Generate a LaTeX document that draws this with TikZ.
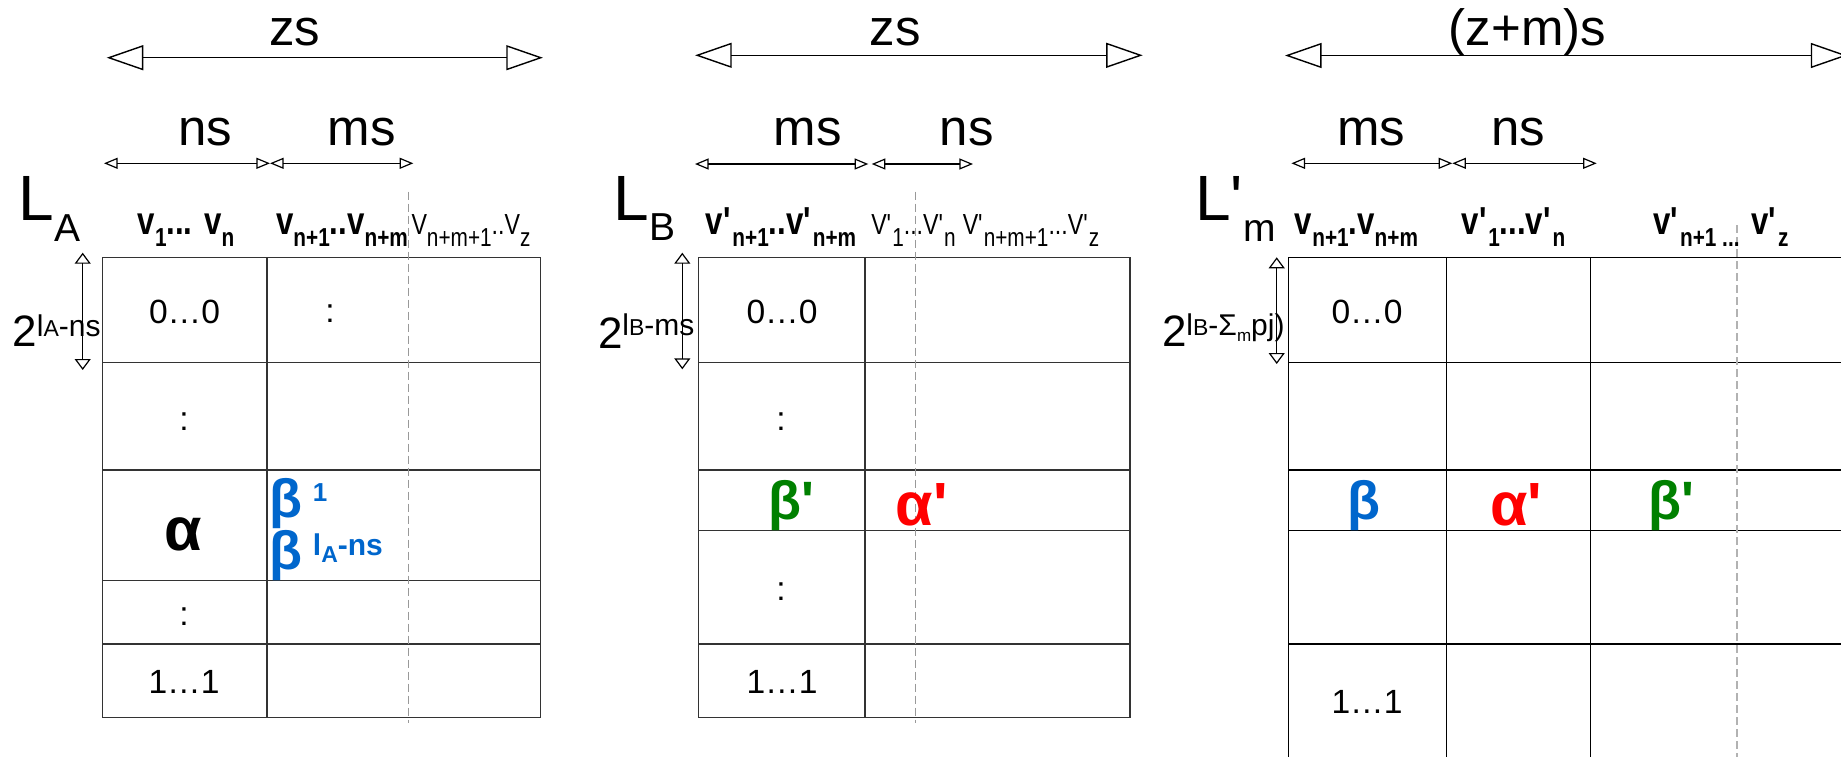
\documentclass[tikz,border=0pt]{standalone}
\usepackage{fontspec}
\setmainfont{Liberation Sans}
\newfontfamily\narrowfont[FakeStretch=0.8]{Liberation Sans}
\usetikzlibrary{arrows.meta, positioning}
\definecolor{betablue}{HTML}{0066CC}
\definecolor{betagreen}{HTML}{008000}
\definecolor{alphared}{HTML}{FF0000}
\newcommand\fsz[1]{\fontsize{#1}{#1}\selectfont}
\newcommand\hsub[1]{\raisebox{-6pt}{\fsz{13}#1}}
\newcommand\pr{\textquotesingle}

\begin{document}
\begin{tikzpicture}[
    x=0.5pt, y=-0.5pt,
    every node/.style={inner sep=0pt, outer sep=0pt, anchor=base},
    dimlbl/.style={font=\fsz{25.5}},
    tname/.style={font=\fsz{32}, anchor=base west},
    hdr/.style={font=\narrowfont\bfseries\fsz{19.5}},
    hdrthin/.style={font=\narrowfont\fsz{14.5}},
    val/.style={font=\fsz{16.8}},
    greek/.style={font=\bfseries\fsz{30.5}},
    beta/.style={font=\bfseries\fsz{27}},
    pow/.style={font=\fsz{22}, anchor=base west},
    tline/.style={draw=black!80, line width=0.6pt},
    sep/.style={draw=black!40, dash pattern=on 4pt off 2pt, line width=0.5pt},
    bigdim/.style={{Triangle[open, length=18.3pt, width=12.5pt]}-{Triangle[open, length=18.3pt, width=12.5pt]}, line width=0.7pt},
    dim/.style={{Triangle[open, length=6.8pt, width=5.5pt]}-{Triangle[open, length=6.8pt, width=5.5pt]}, line width=0.6pt},
    vdim/.style={{Triangle[open, length=5.5pt, width=8pt]}-{Triangle[open, length=5.5pt, width=8pt]}, line width=0.6pt}
]
    \useasboundingbox (0,0) rectangle (1841,756);
    \clip (0,0) rectangle (1841,756);

    \draw[tline] (102.8,257.3) rectangle (540.5,717.3);
    \draw[tline] (266.9,257.3) -- (266.9,717.3)
                 (102.8,362.3) -- (540.5,362.3) (102.8,470) -- (540.5,470)
                 (102.8,580.7) -- (540.5,580.7) (102.8,644) -- (540.5,644);
    \draw[sep] (408.5,191.7) -- (408.5,723);

    \draw[tline] (698.3,257.3) rectangle (1130,717.3);
    \draw[tline] (865,257.3) -- (865,717.3)
                 (698.3,362.3) -- (1130,362.3) (698.3,470) -- (1130,470)
                 (698.3,530.7) -- (1130,530.7) (698.3,644) -- (1130,644);
    \draw[sep] (915.3,191.7) -- (915.3,723);

    \draw[tline, draw=black] (1288.3,257.3) -- (1850,257.3) (1288.3,362.3) -- (1850,362.3)
                 (1288.3,470) -- (1850,470) (1288.3,530.7) -- (1850,530.7) (1288.3,644) -- (1850,644)
                 (1288.3,257.3) -- (1288.3,760) (1446.7,257.3) -- (1446.7,760) (1590.7,257.3) -- (1590.7,760);
    \draw[sep, draw=black!30, line width=1pt] (1737,225) -- (1737,760);

    \coordinate (zsA-l) at (106.7,57.7);
    \coordinate (zsA-r) at (542.9,57.7);
    \coordinate (nsA-l) at (104,163.3);
    \coordinate (nsA-r) at (270,163.3);
    \coordinate (msA-r) at (413.3,163.3);
    \coordinate (hA-t) at (82.7,252.7);
    \coordinate (hA-b) at (82.7,370);
    \draw[bigdim] (zsA-l) -- (zsA-r);
    \draw[dim] (nsA-l) -- (nsA-r);
    \draw[dim] (nsA-r) -- (msA-r);
    \draw[vdim] (hA-t) -- (hA-b);

    \coordinate (zsB-l) at (695.1,55.3);
    \coordinate (zsB-r) at (1142.7,55.3);
    \coordinate (msB-l) at (695,164);
    \coordinate (msB-r) at (868.3,164);
    \coordinate (nsB-l) at (871.7,164);
    \coordinate (nsB-r) at (973,164);
    \coordinate (hB-t) at (682.3,252.7);
    \coordinate (hB-b) at (682.3,369.3);
    \draw[bigdim] (zsB-l) -- (zsB-r);
    \draw[dim] (msB-l) -- (msB-r);
    \draw[dim] (nsB-l) -- (nsB-r);
    \draw[vdim] (hB-t) -- (hB-b);

    \coordinate (zmC-l) at (1285,55.5);
    \coordinate (zmC-r) at (1847.4,55.5);
    \coordinate (msC-l) at (1291.4,163.3);
    \coordinate (msC-r) at (1452.3,163.3);
    \coordinate (nsC-r) at (1596.7,163.3);
    \coordinate (hC-t) at (1276.7,257.3);
    \coordinate (hC-b) at (1276.7,364);
    \draw[bigdim] (zmC-l) -- (zmC-r);
    \draw[dim] (msC-l) -- (msC-r);
    \draw[dim] (msC-r) -- (nsC-r);
    \draw[vdim] (hC-t) -- (hC-b);

    \node[dimlbl] (zsA) at (294.7,45.7) {zs};
    \node[dimlbl] (nsA) at (205,145) {ns};
    \node[dimlbl] (msA) at (361.7,145) {ms};
    \node[dimlbl] (zsB) at (895,45) {zs};
    \node[dimlbl] (msB) at (807.7,145) {ms};
    \node[dimlbl] (nsB) at (966.8,145) {ns};
    \node[dimlbl] (zmC) at (1527.5,45.7) {(z+m)s};
    \node[dimlbl] (msC) at (1371,145) {ms};
    \node[dimlbl] (nsC) at (1518.5,145) {ns};

    \node[tname] (LA) at (18.6,220) {L\raisebox{-10.85pt}{\fsz{19.5}A}};
    \node[tname] (LB) at (613.6,220) {L\raisebox{-10pt}{\fsz{19.5}B}};
    \node[tname] (Lm) at (1195.3,220) {L\pr\raisebox{-10.85pt}{\fsz{19.5}m}};

    \node[hdr] (hA1) at (186,234) {v\hsub{1}... v\hsub{n}};
    \node[hdr] (hA2) at (342,234) {v\hsub{n+1}..v\hsub{n+m}};
    \node[hdrthin] (hA3) at (471,234) {V\hsub{n+m+1}..V\hsub{z}};
    \node[hdr] (hB1) at (781,234) {v\pr\hsub{n+1}..v\pr\hsub{n+m}};
    \node[hdrthin] (hB2) at (913.5,234) {V\pr\hsub{1}...V\pr\hsub{n}};
    \node[hdrthin] (hB3) at (1031,234) {V\pr\hsub{n+m+1}...V\pr\hsub{z}};
    \node[hdr] (hC1) at (1356.5,234) {v\hsub{n+1}.v\hsub{n+m}};
    \node[hdr] (hC2) at (1513.5,234) {v\pr\hsub{1}...v\pr\hsub{n}};
    \node[hdr] (hC3) at (1721,234) {v\pr\hsub{n+1 ...}\hspace{6pt}v\pr\hsub{z}};

    \node[pow] (pA) at (12.5,346.7) {2\raisebox{5pt}{\fsz{15}l{\fsz{11.5}A}-ns}};
    \node[pow] (pB) at (598,348.3) {2\raisebox{6.6pt}{\fsz{15}l{\fsz{11.5}B}-ms}};
    \node[pow] (pC) at (1162,346.7) {2\raisebox{5.8pt}{\fsz{15}l{\fsz{11.5}B}-Σ\raisebox{-3.3pt}{\fsz{8.5}m}pj)}};

    \node[val] (a00) at (184.5,323.3) {0…0};
    \node[val] (a01) at (330,322) {:};
    \node[val] (a10) at (184,430) {:};
    \node[greek] (alA) at (183.4,550) {α};
    \node[beta, anchor=base west, text depth=0pt, text=betablue] (beA1) at (269,517.5) {β\hspace{5.5pt}\raisebox{8pt}{\fsz{13}1}};
    \node[beta, anchor=base west, text=betablue] (beA2) at (269,569) {β\hspace{5.5pt}\raisebox{6.85pt}{\fsz{15}l\raisebox{-3.35pt}{\fsz{11.5}A}-ns}};
    \node[val] (a30) at (184,625) {:};
    \node[val] (a40) at (184,693.3) {1…1};

    \node[val] (b00) at (782,323.3) {0…0};
    \node[val] (b10) at (781,430) {:};
    \node[beta, text=betagreen] (bpB) at (791,519) {β\pr};
    \node[greek, text=alphared] (apB) at (921.7,525) {α\pr};
    \node[val] (b30) at (781,600) {:};
    \node[val] (b40) at (782,693.3) {1…1};

    \node[val] (c00) at (1367,323.3) {0…0};
    \node[beta, text=betablue] (bC) at (1364,519) {β};
    \node[greek, text=alphared] (apC) at (1516,525) {α\pr};
    \node[beta, text=betagreen] (bpC) at (1671,519) {β\pr};
    \node[val] (c40) at (1367,713) {1…1};
\end{tikzpicture}
\end{document}
